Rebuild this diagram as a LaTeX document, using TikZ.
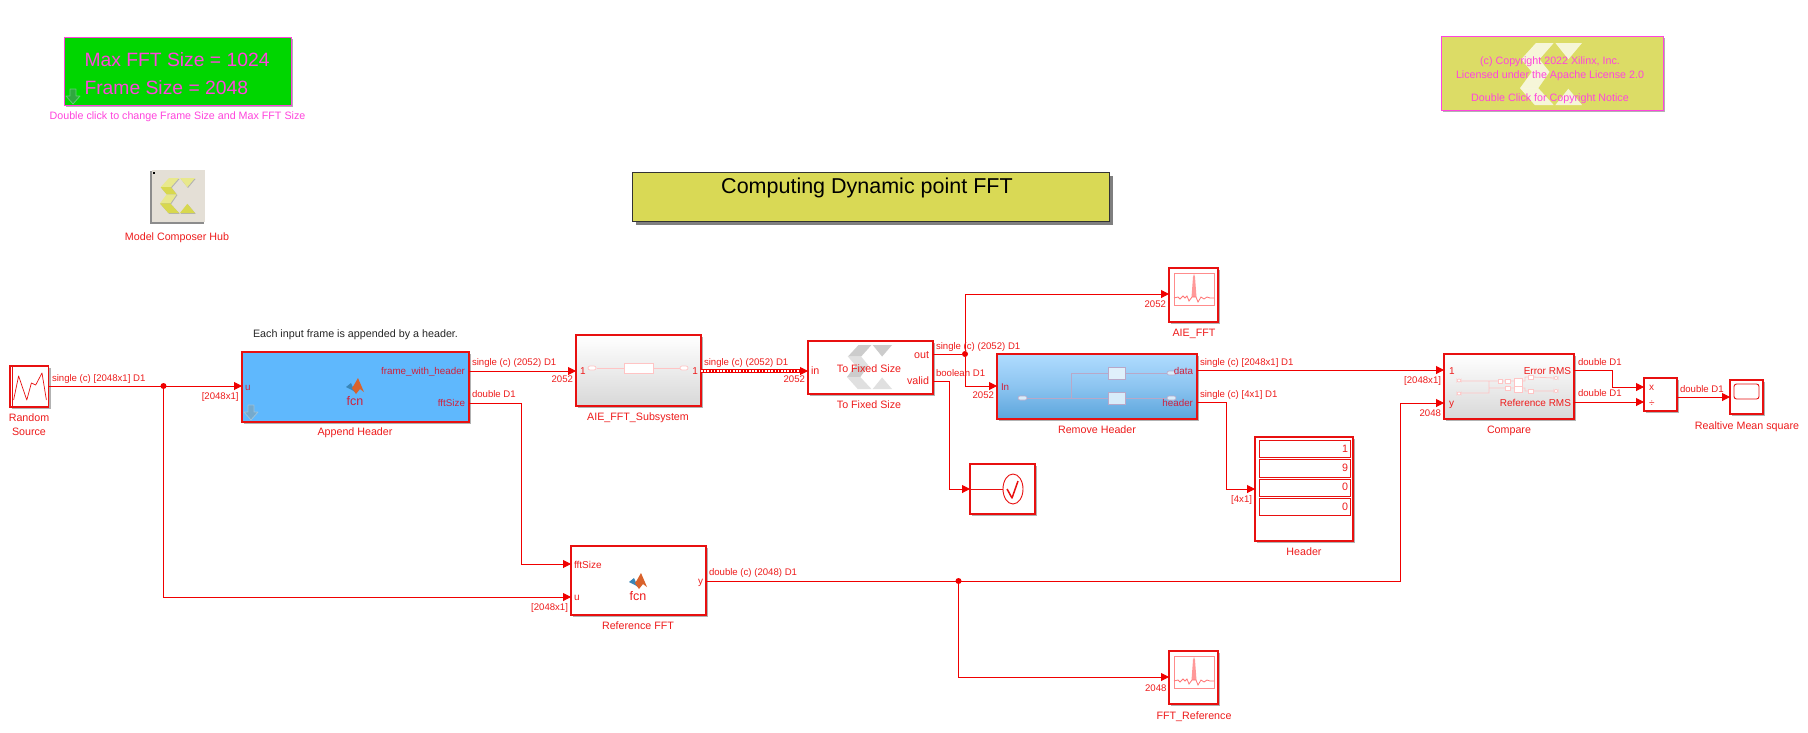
\documentclass[tikz,border=0pt]{standalone}
\usepackage{fontspec}
\setmainfont{Liberation Sans}
\usetikzlibrary{arrows.meta,shadows}
\definecolor{wirered}{HTML}{F00000}
\definecolor{txtred}{HTML}{EE1C1C}
\definecolor{portred}{HTML}{D0203C}
\definecolor{edgered}{HTML}{E81010}
\definecolor{pinkish}{HTML}{FF44DD}
\definecolor{faint}{HTML}{FFC4C4}
\definecolor{logolite}{HTML}{E8E88C}
\definecolor{logodark}{HTML}{D8D84E}
\definecolor{mlblue}{HTML}{3A86B8}
\definecolor{mlorange}{HTML}{D9622B}
\definecolor{ahblue}{HTML}{5FB8FD}
\definecolor{rhtop}{HTML}{B0DCFF}
\definecolor{rhmid}{HTML}{8CC4F0}
\definecolor{rhbot}{HTML}{5BA5DC}
\definecolor{rhline}{HTML}{B8A8C8}
\definecolor{rhbox}{HTML}{D8ECFA}
\definecolor{hubfill}{HTML}{E4DFD6}
\definecolor{titlefill}{HTML}{D9D955}
\definecolor{copyfill}{HTML}{DCDC66}
\definecolor{maskgreen}{HTML}{00D600}
\definecolor{gmid}{HTML}{F7F7F7}
\definecolor{gbot}{HTML}{D8D8D8}
\definecolor{icongreen}{HTML}{2FA83F}
\definecolor{iconedge}{HTML}{5FD070}
\tikzset{
  sz/.style 2 args={minimum width=#1pt,minimum height=#2pt,inner sep=0pt,outer sep=0pt},
  shad/.style={drop shadow={shadow xshift=2pt,shadow yshift=-2pt,fill=black,opacity=.3}},
  blk/.style={draw=edgered,line width=1.1pt,fill=white,shad},
  heavy/.style={draw=edgered,line width=2.4pt,shad},
  gbox/.style={blk,top color=white,middle color=gmid,bottom color=gbot},
  wire/.style={draw=wirered,line width=1pt,line join=miter},
  sig/.style={wire,-{Triangle[length=8pt,width=8pt]}},
  jdot/.style={circle,fill=wirered,minimum size=6pt,inner sep=0pt,outer sep=0pt},
  t/.style={inner sep=0pt,outer sep=0pt,text=txtred,text height=7pt,text depth=0pt,font=\fontsize{9.6}{11}\selectfont},
  tl/.style={t,anchor=west},
  tr/.style={t,anchor=east},
  nm/.style={t,anchor=center,yshift=-.8pt,font=\fontsize{10.7}{12}\selectfont},
  pk/.style={t,anchor=center,text=pinkish,font=\fontsize{10.7}{12}\selectfont},
  pl/.style={tl,font=\fontsize{9.8}{12}\selectfont,text=portred},
  pr/.style={tr,font=\fontsize{9.8}{12}\selectfont,text=portred},
  inl/.style={draw=faint,line width=.8pt},
  term/.style={draw=faint,line width=.7pt,fill=white,rounded corners=2pt},
}
% Xilinx logo: x, y, width, height, light colour, dark colour
\newcommand\xlogo[6]{\begin{scope}[shift={(#1,#2)},x=#3pt,y=-#4pt]
  \fill[#5] (.257,0)--(.543,0)--(.314,.262)--(.02,.262)--cycle;
  \fill[#6] (.02,.262)--(.314,.262)--(.476,.466)--(.19,.466)--cycle;
  \fill[#5] (.19,.466)--(.476,.466)--(.295,.728)--(0,.728)--cycle;
  \fill[#6] (0,.728)--(.295,.728)--(.543,1)--(.238,1)--cycle;
  \fill[#5] (.571,0)--(1,0)--(.78,.262)--cycle;
  \fill[#6] (.571,1)--(.78,.738)--(1,1)--cycle;
\end{scope}}
% MATLAB icon centred at x, y
\newcommand\mlicon[2]{\begin{scope}[shift={(#1,#2)}]
  \fill[mlblue] (-9,1)--(-4,-3)--(0,6)--(-3,4)--cycle;
  \fill[mlorange] (3,-8)--(9,6)--(5,3)--(1,8)--(-3,2)--(-1,-1)--cycle;
\end{scope}}
% Down-arrow icon
\newcommand\dnicon[4]{\filldraw[fill=#3,draw=#4,line width=.8pt,line join=round] (#1-3,#2-8)--(#1+3,#2-8)--(#1+3,#2-1)--(#1+7,#2-1)--(#1,#2+7)--(#1-7,#2-1)--(#1-3,#2-1)--cycle;}
% Spectrum icon: top-left corner x, y
\newcommand\specicon[2]{\begin{scope}[shift={(#1,#2)}]
  \draw[draw=red!45,line width=.7pt] (0,0) rectangle (40,32);
  \fill[red!40] (17.5,24)--(19,4)--(20,1)--(21,4)--(22.5,24)--cycle;
  \draw[draw=red!55,line width=.8pt] (0,25)--(4,24)--(6,26)--(9,23)--(11,25)--(13,23)--(15,28)--(18,24)--(22,24)--(24,29)--(27,24)--(30,26)--(33,24)--(36,25)--(40,25);
\end{scope}}
\begin{document}
\begin{tikzpicture}[x=1pt,y=-1pt]
\useasboundingbox (0,0) rectangle (1808,732);
\fill[white] (0,0) rectangle (1808,732);

% --- annotations at the top
\node[sz={227}{68},draw=pinkish,line width=1pt,fill=maskgreen,shad,anchor=north west] (mask) at (64,37) {};
\node[t,anchor=west,text=pinkish,font=\fontsize{19.3}{22}\selectfont,text height=14pt] (maxfft) at (84.5,59) {Max FFT Size = 1024};
\node[t,anchor=west,text=pinkish,font=\fontsize{19.3}{22}\selectfont,text height=14pt] (framesz) at (84.5,87) {Frame Size = 2048};
\dnicon{73}{97}{icongreen}{iconedge}
\node[pk] (maskcap) at (177.5,115.5) {Double click to change Frame Size and Max FFT Size};

\node[sz={54}{53},fill=black!45,anchor=north west] (hubsh) at (150,171) {};
\node[sz={53}{52},fill=hubfill,anchor=north west] (hub) at (151.5,170) {};
\fill[black] (153,172) rectangle (155,174);
\xlogo{160.7}{178.8}{35}{35}{black!30}{black!30}
\xlogo{160}{178}{35}{35}{logolite}{logodark}
\node[nm] (hubcap) at (177,236) {Model Composer Hub};

\node[sz={477}{49},draw=black!80,line width=1pt,fill=titlefill,anchor=north west,drop shadow={shadow xshift=4pt,shadow yshift=-4pt,fill=black,opacity=.5}] (title) at (632,172) {};
\node[t,text=black,font=\fontsize{21.5}{24}\selectfont,text height=15pt] (titletxt) at (867,186) {Computing Dynamic point FFT};

\node[sz={222}{74},draw=pinkish,line width=1pt,fill=copyfill,shad,anchor=north west] (copy) at (1441,36) {};
\begin{scope}[opacity=.75]\xlogo{1520}{43}{62}{62}{white}{white}\end{scope}
\node[pk] (copy1) at (1550,60.5) {(c) Copyright 2022 Xilinx, Inc.};
\node[pk] (copy2) at (1550,75) {Licensed under the Apache License 2.0};
\node[pk] (copy3) at (1550,98) {Double Click for Copyright Notice};

% --- blocks
\node[sz={38.6}{41},blk,anchor=north west] (rs) at (10,366) {};
\draw[draw=edgered,line width=.7pt] (12.5,366)--(12.5,407);
\draw[draw=edgered,line width=.7pt,line join=round] (13.6,400)--(18.6,376)--(26.8,400)--(31.4,383)--(35.7,385)--(42,373)--(46.4,400);
\node[nm] (rs1) at (29,417) {Random};
\node[nm] (rs2) at (29,431) {Source};

\node[sz={227}{70},heavy,fill=ahblue,anchor=north west] (ah) at (242,352) {};
\mlicon{355}{386}
\dnicon{251}{413}{mlblue!70!white}{mlblue!50!white}
\node[t,anchor=center,font=\fontsize{12.5}{14}\selectfont,text=portred] (ahfcn) at (355,402) {fcn};
\node[pl] (ahu) at (245,387) {u};
\node[pr] (ahfw) at (465,371) {frame\_with\_header};
\node[pr] (ahfs) at (465,403) {fftSize};
\node[nm] (ahcap) at (355,431) {Append Header};
\node[t,anchor=center,text=black!85,font=\fontsize{10.75}{12}\selectfont] (ahnote) at (355.5,333.5) {Each input frame is appended by a header.};

\node[sz={135}{69},heavy,fill=white,anchor=north west] (ref) at (571,546) {};
\mlicon{638}{581}
\node[t,anchor=center,font=\fontsize{12.5}{14}\selectfont] (reffcn) at (638,597) {fcn};
\node[tl,font=\fontsize{10}{12}\selectfont] (reffs) at (574,565) {fftSize};
\node[tl,font=\fontsize{10}{12}\selectfont] (refu) at (574,597) {u};
\node[tr,font=\fontsize{10}{12}\selectfont] (refy) at (703,581) {y};
\node[nm] (refcap) at (638,625) {Reference FFT};

\node[sz={125}{71},gbox,anchor=north west] (sub) at (576,335) {};
\draw[inl] (597,368)--(624,368) (653,368)--(680,368);
\draw[inl,fill=white] (624,363) rectangle (653,373);
\draw[term] (588,366) rectangle (596,370);
\draw[term] (680,366) rectangle (688,370);
\node[tl,font=\fontsize{10}{12}\selectfont] (sub1) at (580,371) {1};
\node[tr,font=\fontsize{10}{12}\selectfont] (sub2) at (698,371) {1};
\node[nm] (subcap) at (638,416) {AIE\_FFT\_Subsystem};

\node[sz={125}{53},blk,anchor=north west] (fix) at (808,341) {};
\xlogo{847}{345}{45}{44}{black!20}{black!12}
\node[nm] (fixc) at (869,368) {To Fixed Size};
\node[tl,font=\fontsize{10.7}{12}\selectfont] (fixin) at (811,371) {in};
\node[tr,font=\fontsize{10.7}{12}\selectfont] (fixout) at (929,355) {out};
\node[tr,font=\fontsize{10.7}{12}\selectfont] (fixval) at (929,381) {valid};
\node[nm] (fixcap) at (869,404) {To Fixed Size};

\node[sz={49}{54},blk,anchor=north west] (aie) at (1169,268) {};
\specicon{1174}{273}
\node[nm] (aiecap) at (1194,332) {AIE\_FFT};

\node[sz={49}{53},blk,anchor=north west] (fftr) at (1169,651) {};
\specicon{1174}{656}
\node[nm] (fftrcap) at (1194,715) {FFT\_Reference};

\node[sz={200}{65},blk,anchor=north west,top color=rhtop,bottom color=rhbot,middle color=rhmid] (rh) at (997,354) {};
\draw[draw=rhline,line width=.7pt] (1026,398)--(1108,398) (1125,398)--(1167,398) (1071,398)--(1071,373)--(1108,373) (1125,373)--(1167,373);
\filldraw[draw=rhline,fill=rhbox!80!white,line width=.7pt] (1108,367) rectangle (1125,379);
\filldraw[draw=rhline,fill=rhbox,line width=.7pt] (1108,392) rectangle (1125,404);
\filldraw[draw=rhline,fill=rhbox,line width=.6pt,rounded corners=2pt] (1018,396) rectangle (1027,400) (1167,371) rectangle (1176,375) (1167,396) rectangle (1176,400);
\node[pl] (rhin) at (1001,387) {In};
\node[pr] (rhd) at (1193,371) {data};
\node[pr] (rhh) at (1193,403) {header};
\node[nm] (rhcap) at (1097,429) {Remove Header};

\node[sz={65}{50},blk,anchor=north west] (chk) at (970,464) {};
\draw[draw=edgered,line width=.9pt] (970,489)--(1003,489);
\draw[draw=edgered,line width=.9pt] (1013,489) ellipse [x radius=10,y radius=15];
\draw[draw=edgered,line width=1.5pt,line join=round] (1007,489)--(1012,498)--(1018,481);

\node[sz={98}{104},blk,anchor=north west] (hdr) at (1255,437) {};
\node[sz={91}{17},draw=edgered,line width=1pt,anchor=north west] (h1) at (1259,440) {};
\node[sz={91}{18},draw=edgered,line width=1pt,anchor=north west] (h2) at (1259,459) {};
\node[sz={91}{17},draw=edgered,line width=1pt,anchor=north west] (h3) at (1259,479) {};
\node[sz={91}{17},draw=edgered,line width=1pt,anchor=north west] (h4) at (1259,498) {};
\node[tr,font=\fontsize{10.7}{12}\selectfont] (v1) at (1348,449) {1};
\node[tr,font=\fontsize{10.7}{12}\selectfont] (v2) at (1348,468) {9};
\node[tr,font=\fontsize{10.7}{12}\selectfont] (v3) at (1348,487) {0};
\node[tr,font=\fontsize{10.7}{12}\selectfont] (v4) at (1348,507) {0};
\node[nm] (hdrcap) at (1304,551) {Header};

\node[sz={130}{65},gbox,anchor=north west] (cmp) at (1444,354) {};
\draw[inl] (1461,381)--(1498,381) (1461,393)--(1489,393)--(1489,381) (1489,388)--(1505,388) (1502,381)--(1505,381) (1510,381)--(1514,381) (1510,388)--(1514,388) (1522,381)--(1525,381)--(1525,377)--(1528,377) (1522,388)--(1525,388)--(1525,391)--(1528,391) (1533,377)--(1554,378) (1533,391)--(1554,391);
\draw[inl,fill=white] (1498,379) rectangle (1502,383) (1505,379) rectangle (1510,383) (1505,386) rectangle (1510,390) (1514,378) rectangle (1522,386) (1514,386) rectangle (1522,392) (1528,375) rectangle (1533,379) (1528,389) rectangle (1533,393);
\draw[term] (1457,379) rectangle (1461,382) (1457,392) rectangle (1461,395) (1554,376.5) rectangle (1558,379.5) (1554,389.5) rectangle (1558,392.5);
\node[tl,font=\fontsize{10}{12}\selectfont] (c1) at (1449,371) {1};
\node[tl,font=\fontsize{10}{12}\selectfont] (cy) at (1449,403) {y};
\node[tr,font=\fontsize{10}{12}\selectfont] (cerr) at (1571,371) {Error RMS};
\node[tr,font=\fontsize{10}{12}\selectfont] (cref) at (1571,403) {Reference RMS};
\node[nm] (cmpcap) at (1509,429) {Compare};

\node[sz={33}{33},blk,anchor=north west] (div) at (1644,378) {};
\node[tl,font=\fontsize{10}{12}\selectfont] (dx) at (1649,387) {x};
\node[tl,font=\fontsize{10}{12}\selectfont] (dd) at (1649,403) {÷};

\node[sz={33}{34},blk,anchor=north west] (scp) at (1730,380) {};
\draw[draw=edgered,line width=.9pt,rounded corners=2.5pt] (1734,384) rectangle (1759,399);
\node[nm] (scpcap) at (1747,425) {Realtive Mean square};

% --- connector end points
\coordinate (rsO) at (48.6,386);
\coordinate (ahU) at (242,386);
\coordinate (ahW) at (469,371);
\coordinate (ahS) at (469,403);
\coordinate (subI) at (576,371);
\coordinate (subO) at (701,371);
\coordinate (fixI) at (808,371);
\coordinate (fixO) at (933,354);
\coordinate (fixV) at (933,381);
\coordinate (aieI) at (1169,294);
\coordinate (rhI) at (997,386);
\coordinate (rhD) at (1197,370);
\coordinate (rhH) at (1197,402);
\coordinate (hdrI) at (1255,489);
\coordinate (chkI) at (970,489);
\coordinate (cmpA) at (1444,370);
\coordinate (cmpB) at (1444,403);
\coordinate (cmpE) at (1574,370);
\coordinate (cmpR) at (1574,402);
\coordinate (divA) at (1644,387);
\coordinate (divB) at (1644,402);
\coordinate (divO) at (1677,397);
\coordinate (scpI) at (1730,397);
\coordinate (refF) at (571,564);
\coordinate (refU) at (571,597);
\coordinate (refO) at (706,581);
\coordinate (ftrI) at (1169,677);
\coordinate (dotIn) at (802,371);

\node[jdot] (j1) at (163.5,386) {};
\node[jdot] (j2) at (965,354) {};
\node[jdot] (j3) at (958.5,581) {};

% --- connectors
\draw[sig] (rsO)--(ahU);
\draw[sig] (j1)--(j1|-refU)--(refU);
\draw[sig] (ahW)--(subI);
\draw[sig] (ahS)--(521,403)--(521,564)--(refF);
\draw[draw=wirered,line width=3.6pt] (subO)--(dotIn);
\draw[draw=white,line width=1.3pt,dash pattern=on 1.6pt off 1.6pt] (subO)--(dotIn);
\draw[sig] (dotIn)--(fixI);
\draw[wire] (fixO)--(j2);
\draw[sig] (j2)--(j2|-aieI)--(aieI);
\draw[sig] (j2)--(j2|-rhI)--(rhI);
\draw[sig] (fixV)--(949,381)--(949,489)--(chkI);
\draw[sig] (rhD)--(cmpA);
\draw[sig] (rhH)--(1226,402)--(1226,489)--(hdrI);
\draw[sig] (refO)--(1400,581)--(1400,403)--(cmpB);
\draw[sig] (j3)--(j3|-ftrI)--(ftrI);
\draw[sig] (cmpE)--(1612,370)--(1612,387)--(divA);
\draw[sig] (cmpR)--(divB);
\draw[sig] (divO)--(scpI);

% --- signal labels
\node[tl] (s1) at (52,378) {single (c) [2048x1] D1};
\node[tr] (s2) at (238.6,396) {[2048x1]};
\node[tl] (s3) at (472,362) {single (c) (2052) D1};
\node[tl] (s4) at (472,394) {double D1};
\node[tr] (s5) at (573,379) {2052};
\node[tl] (s6) at (704,362) {single (c) (2052) D1};
\node[tr] (s7) at (805,379) {2052};
\node[tl] (s8) at (936,346) {single (c) (2052) D1};
\node[tl] (s9) at (936,373) {boolean D1};
\node[tr] (s10) at (994,395) {2052};
\node[tr] (s11) at (1166,304) {2052};
\node[tl] (s12) at (1200,362) {single (c) [2048x1] D1};
\node[tl] (s13) at (1200,394) {single (c) [4x1] D1};
\node[tr] (s14) at (1252,499) {[4x1]};
\node[tr] (s15) at (1441,380) {[2048x1]};
\node[tr] (s16) at (1441,413) {2048};
\node[tl] (s17) at (1578,362) {double D1};
\node[tl] (s18) at (1578,393) {double D1};
\node[tl] (s19) at (1680,389) {double D1};
\node[tr] (s20) at (568,607) {[2048x1]};
\node[tl] (s21) at (709,572) {double (c) (2048) D1};
\node[tr] (s22) at (1166.5,688) {2048};
\end{tikzpicture}
\end{document}
